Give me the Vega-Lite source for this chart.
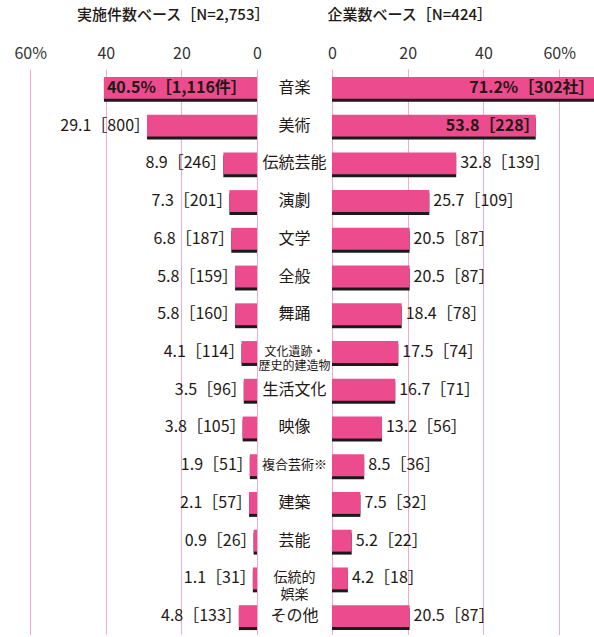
{
  "$schema": "https://vega.github.io/schema/vega-lite/v6.json",
  "padding": {"top": 8, "left": 0, "right": 0, "bottom": 0},
  "bounds": "flush",
  "spacing": 0,
  "config": {
    "view": {"stroke": null},
    "font": "Noto Sans CJK JP",
    "axis": {
      "orient": "top", "domain": false, "ticks": false, "grid": true,
      "gridColor": "#f3a9d0", "gridWidth": 1, "labelFontSize": 16,
      "labelColor": "#333333", "labelPadding": 8, "title": null,
      "labelFont": "Noto Sans CJK JP", "labelFlush": false
    },
    "title": {"fontSize": 15, "fontWeight": 500, "color": "#231815", "offset": 22, "font": "Noto Sans CJK JP"}
  },
  "data": {"values": [
    {"o": 1, "cat": "音楽", "l": 40.5, "ltxt": "40.5%［1,116件］", "r": 71.2, "rtxt": "71.2%［302社］"},
    {"o": 2, "cat": "美術", "l": 29.1, "ltxt": "29.1［800］", "r": 53.8, "rtxt": "53.8［228］"},
    {"o": 3, "cat": "伝統芸能", "l": 8.9, "ltxt": "8.9［246］", "r": 32.8, "rtxt": "32.8［139］"},
    {"o": 4, "cat": "演劇", "l": 7.3, "ltxt": "7.3［201］", "r": 25.7, "rtxt": "25.7［109］"},
    {"o": 5, "cat": "文学", "l": 6.8, "ltxt": "6.8［187］", "r": 20.5, "rtxt": "20.5［87］"},
    {"o": 6, "cat": "全般", "l": 5.8, "ltxt": "5.8［159］", "r": 20.5, "rtxt": "20.5［87］"},
    {"o": 7, "cat": "舞踊", "l": 5.8, "ltxt": "5.8［160］", "r": 18.4, "rtxt": "18.4［78］"},
    {"o": 8, "cat": "文化遺跡・|歴史的建造物", "l": 4.1, "ltxt": "4.1［114］", "r": 17.5, "rtxt": "17.5［74］"},
    {"o": 9, "cat": "生活文化", "l": 3.5, "ltxt": "3.5［96］", "r": 16.7, "rtxt": "16.7［71］"},
    {"o": 10, "cat": "映像", "l": 3.8, "ltxt": "3.8［105］", "r": 13.2, "rtxt": "13.2［56］"},
    {"o": 11, "cat": "複合芸術※", "l": 1.9, "ltxt": "1.9［51］", "r": 8.5, "rtxt": "8.5［36］"},
    {"o": 12, "cat": "建築", "l": 2.1, "ltxt": "2.1［57］", "r": 7.5, "rtxt": "7.5［32］"},
    {"o": 13, "cat": "芸能", "l": 0.9, "ltxt": "0.9［26］", "r": 5.2, "rtxt": "5.2［22］"},
    {"o": 14, "cat": "伝統的|娯楽", "l": 1.1, "ltxt": "1.1［31］", "r": 4.2, "rtxt": "4.2［18］"},
    {"o": 15, "cat": "その他", "l": 4.8, "ltxt": "4.8［133］", "r": 20.5, "rtxt": "20.5［87］"}
  ]},
  "hconcat": [
    {
      "width": 257, "height": 566,
      "title": {"text": "実施件数ベース［N=2,753］", "anchor": "end", "dx": 8},
      "encoding": {
        "y": {"field": "cat", "type": "nominal", "sort": {"field": "o", "op": "min"}, "axis": null,
              "scale": {"paddingInner": 0.42, "paddingOuter": 0.21}},
        "x": {"field": "l", "type": "quantitative",
              "scale": {"domain": [0, 68], "reverse": true, "nice": false, "zero": true},
              "axis": {"values": [0, 20, 40, 60], "labelExpr": "datum.value == 60 ? '60%' : datum.label"}}
      },
      "layer": [
        {"mark": {"type": "bar", "color": "#1a1a1a", "yOffset": 3}},
        {"mark": {"type": "bar", "color": "#ec4c8e"}},
        {"transform": [{"filter": "datum.o > 1"}],
         "mark": {"type": "text", "align": "right", "baseline": "middle", "dx": 3, "fontSize": 16, "color": "#231815"},
         "encoding": {"text": {"field": "ltxt"}}},
        {"transform": [{"filter": "datum.o == 1"}],
         "mark": {"type": "text", "align": "left", "baseline": "middle", "dx": 3, "fontSize": 16, "fontWeight": "bold", "color": "#231815"},
         "encoding": {"text": {"field": "ltxt"}}}
      ]
    },
    {
      "width": 75, "height": 566,
      "encoding": {
        "y": {"field": "cat", "type": "nominal", "sort": {"field": "o", "op": "min"}, "axis": null,
              "scale": {"paddingInner": 0.42, "paddingOuter": 0.21}},
        "text": {"field": "cat"}
      },
      "layer": [
        {"transform": [{"filter": "datum.o != 8 && datum.o != 11 && datum.o != 14"}],
         "mark": {"type": "text", "align": "center", "baseline": "middle", "fontSize": 16, "color": "#231815"}},
        {"transform": [{"filter": "datum.o == 8"}],
         "mark": {"type": "text", "align": "center", "baseline": "middle", "fontSize": 12, "lineHeight": 14, "lineBreak": "|", "color": "#231815"}},
        {"transform": [{"filter": "datum.o == 11"}],
         "mark": {"type": "text", "align": "center", "baseline": "middle", "fontSize": 13, "color": "#231815"}},
        {"transform": [{"filter": "datum.o == 14"}],
         "mark": {"type": "text", "align": "center", "baseline": "middle", "fontSize": 14, "lineHeight": 17, "lineBreak": "|", "color": "#231815"}}
      ]
    },
    {
      "width": 262, "height": 566,
      "title": {"text": "企業数ベース［N=424］", "anchor": "start"},
      "encoding": {
        "y": {"field": "cat", "type": "nominal", "sort": {"field": "o", "op": "min"}, "axis": null,
              "scale": {"paddingInner": 0.42, "paddingOuter": 0.21}},
        "x": {"field": "r", "type": "quantitative",
              "scale": {"domain": [0, 69.2], "nice": false, "zero": true},
              "axis": {"values": [0, 20, 40, 60], "labelExpr": "datum.value == 60 ? '60%' : datum.label"}}
      },
      "layer": [
        {"mark": {"type": "bar", "color": "#1a1a1a", "yOffset": 3}},
        {"mark": {"type": "bar", "color": "#ec4c8e"}},
        {"transform": [{"filter": "datum.o > 2"}],
         "mark": {"type": "text", "align": "left", "baseline": "middle", "dx": 4, "fontSize": 16, "color": "#231815"},
         "encoding": {"text": {"field": "rtxt"}}},
        {"transform": [{"filter": "datum.o == 2"}],
         "mark": {"type": "text", "align": "right", "baseline": "middle", "dx": 4, "fontSize": 16, "fontWeight": "bold", "color": "#231815"},
         "encoding": {"text": {"field": "rtxt"}}},
        {"transform": [{"filter": "datum.o == 1"}],
         "mark": {"type": "text", "align": "right", "baseline": "middle", "dx": -7, "fontSize": 16, "fontWeight": "bold", "color": "#231815"},
         "encoding": {"text": {"field": "rtxt"}}}
      ]
    }
  ]
}
